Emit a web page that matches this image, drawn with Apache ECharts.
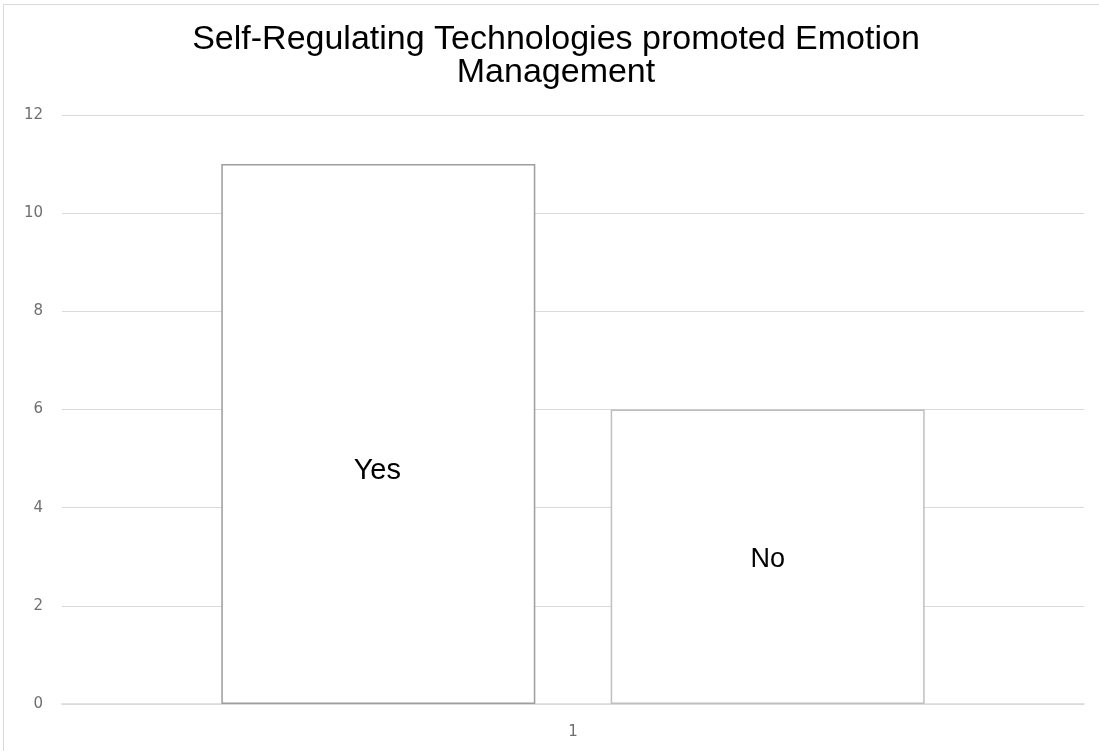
<!DOCTYPE html>
<html>
<head>
<meta charset="utf-8">
<script src="https://cdn.jsdelivr.net/npm/echarts@6/dist/echarts.min.js"></script>
<style>
html,body{margin:0;padding:0;background:#fff;}
#wrap{position:absolute;left:0;top:0;width:1099px;height:751px;}
#frame{position:absolute;left:3px;top:4px;width:1096px;height:747px;border-left:1px solid #d9d9d9;border-top:1px solid #d9d9d9;box-sizing:border-box;pointer-events:none;}
#chart{position:absolute;left:0;top:0;width:1099px;height:751px;}
</style>
</head>
<body>
<div id="wrap"><div id="chart"></div><div id="frame"></div></div>
<script>
const titleText = 'Self-Regulating Technologies promoted Emotion\nManagement';
const categories = ['1'];
const seriesNames = ['Yes', 'No'];
const yesValues = [11];
const noValues = [6];
const yTicks = [0, 2, 4, 6, 8, 10, 12];

const chart = echarts.init(document.getElementById('chart'), null, {renderer: 'canvas'});
const font = 'Liberation Sans, Arial, sans-serif';
const axisFont = 'DejaVu Sans, sans-serif';
chart.setOption({
  backgroundColor: '#ffffff',
  animation: false,
  title: {
    text: titleText,
    left: 556,
    textAlign: 'center',
    top: 23,
    padding: 0,
    textStyle: {fontFamily: font, fontSize: 34, fontWeight: 'normal', color: '#000000', lineHeight: 33}
  },
  grid: {left: 62, right: 15, top: 115, bottom: 47, containLabel: false},
  xAxis: {
    type: 'category',
    data: categories,
    boundaryGap: true,
    axisLine: {show: true, lineStyle: {color: '#d9d9d9', width: 1.5}},
    axisTick: {show: false},
    axisLabel: {color: '#6f6f6f', fontSize: 15, fontFamily: axisFont, margin: 21}
  },
  yAxis: {
    type: 'value',
    min: yTicks[0],
    max: yTicks[yTicks.length - 1],
    interval: 2,
    axisLine: {show: false},
    axisTick: {show: false},
    splitLine: {lineStyle: {color: '#d9d9d9', width: 1}},
    axisLabel: {color: '#6f6f6f', fontSize: 15, fontFamily: axisFont, margin: 19}
  },
  series: [
    {
      name: seriesNames[0],
      type: 'bar',
      data: yesValues,
      barWidth: 314,
      barGap: '24%',
      itemStyle: {color: '#ffffff', borderColor: '#9d9d9d', borderWidth: 1.5},
      label: {show: true, position: 'inside', offset: [-1, 37], formatter: seriesNames[0], fontFamily: font, fontSize: 29, color: '#000000'}
    },
    {
      name: seriesNames[1],
      type: 'bar',
      data: noValues,
      barWidth: 314,
      barGap: '24%',
      itemStyle: {color: '#ffffff', borderColor: '#bfbfbf', borderWidth: 1.5},
      label: {show: true, position: 'inside', offset: [0, 3], formatter: seriesNames[1], fontFamily: font, fontSize: 27, color: '#000000'}
    }
  ]
});
</script>
</body>
</html>
